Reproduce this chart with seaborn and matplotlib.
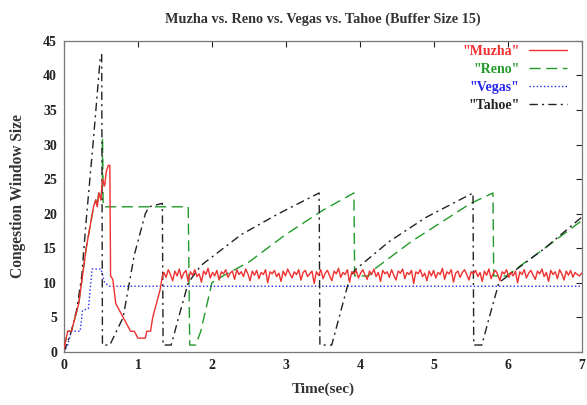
import numpy as np
import pandas as pd
import matplotlib
matplotlib.use("Agg")
import matplotlib.pyplot as plt
import seaborn as sns

# ---------------- data ----------------
muzha_x_start = [0.0, 0.03, 0.05, 0.10, 0.15, 0.20, 0.25, 0.30, 0.35, 0.40, 0.43, 0.45, 0.47,
                 0.50, 0.52, 0.55, 0.57, 0.60, 0.62, 0.63, 0.66, 0.70, 0.75, 0.80, 0.85, 0.90,
                 0.95, 1.00, 1.10, 1.12, 1.17, 1.20, 1.25, 1.30, 1.33]
muzha_y_start = [0.5, 2, 3, 3, 5, 7, 11, 15, 18, 21, 22, 21, 23,
                 22, 25, 24, 26, 27, 27, 11, 10.5, 7, 6, 5, 4, 3,
                 3, 2, 2, 3, 3, 5, 7, 9, 11]
muzha_noise = [11.5, 10.8, 11.9, 11.2, 10.3, 11.7, 11.0, 12.0, 10.6, 11.4,
               11.8, 10.2, 11.6, 11.1, 11.9, 10.9, 11.3, 10.1, 11.7, 11.2,
               12.1, 10.7, 11.5, 11.0, 11.8, 10.4, 11.6, 11.3, 11.9, 10.8,
               11.4, 11.7, 10.5, 11.9, 11.2, 11.6, 10.9, 12.0, 11.3, 10.3,
               11.7, 11.1, 11.8, 10.6, 11.5, 11.2, 11.9, 10.0, 11.6, 11.3,
               11.8, 10.9, 11.4, 10.2, 11.7, 11.0, 12.0, 11.3, 10.7, 11.6,
               11.2, 11.9, 10.4, 11.5, 11.8, 10.9, 11.3, 11.7, 9.9, 11.6,
               11.1, 11.9, 10.6, 11.4, 11.8, 11.0, 10.3, 11.7, 11.3, 12.1,
               10.8, 11.5, 11.2, 11.9, 10.1, 11.6, 11.3, 11.8, 10.7, 11.4,
               11.9, 11.1, 10.5, 11.7, 11.2, 12.0, 10.9, 11.5, 10.2, 11.8,
               11.3, 11.6, 10.8, 11.9, 11.1, 10.4, 11.7, 11.4, 12.0, 10.6,
               11.5, 11.2, 11.8, 9.9, 11.6, 11.3, 11.9, 10.9, 11.4, 10.3,
               11.7, 11.0, 11.8, 10.7, 11.5, 11.2, 12.1, 10.5, 11.6, 11.3,
               11.9, 10.1, 11.4, 11.7, 10.8, 11.5, 11.9, 11.2, 10.4, 11.6,
               11.3, 11.8, 10.9, 11.5, 10.2, 11.7, 11.1, 12.0, 10.6, 11.4,
               11.8, 11.2, 10.3, 11.6, 11.3, 11.9, 10.8, 11.5, 11.0, 11.7,
               10.0, 11.6, 11.2, 11.9, 10.7, 11.4, 11.8, 11.1, 10.5, 11.7,
               11.3, 12.0, 10.9, 11.5, 10.2, 11.8, 11.2, 11.6, 10.6, 11.9,
               11.3, 10.4, 11.7, 11.1, 11.8, 10.8, 11.5, 11.2, 11.0, 11.4]

reno_x = [0.0, 0.03, 0.05, 0.10, 0.15, 0.20, 0.25, 0.30, 0.35, 0.40, 0.43, 0.45, 0.47,
          0.50, 0.52, 0.52, 0.53, 1.68, 1.70, 1.78, 1.85, 2.0, 2.15,
          2.5, 3.0, 3.5, 3.92, 3.93, 4.12, 4.2, 4.7, 5.5, 5.80, 5.81, 5.98, 6.5, 7.0]
reno_y = [0.5, 2, 3, 3, 5, 7, 11, 15, 18, 21, 22, 21, 23,
          22, 25, 31, 21, 21, 1, 1, 3, 10, 11,
          13, 17, 20.5, 23, 11, 11, 12, 16, 21.5, 23, 11, 11, 15, 19]

vegas_x = [0.0, 0.05, 0.10, 0.22, 0.25, 0.33, 0.38, 0.50, 0.55, 0.62, 7.0]
vegas_y = [0, 1, 3, 3, 6, 6.3, 12, 12, 10, 9.5, 9.5]

tahoe_x = [0.0, 0.10, 0.17, 0.24, 0.30, 0.40, 0.49, 0.51, 0.52, 0.62, 0.80, 0.95, 1.10,
           1.15, 1.33, 1.34, 1.45, 1.55, 1.68, 1.85, 2.4, 2.9, 3.45, 3.46, 3.62, 3.72,
           3.87, 3.95, 4.4, 4.9, 5.53, 5.54, 5.65, 5.75, 5.88, 6.0, 6.5, 7.0]
tahoe_y = [0, 3, 6, 11, 19, 31, 42.5, 43, 1, 1, 5, 14, 20,
           21, 21.5, 1, 1, 5, 10, 12.5, 17, 20, 23, 1, 1, 5,
           11, 12, 16, 19.5, 23, 1, 1, 5, 10, 11, 15, 19.5]

labels = ['"Muzha"', '"Reno"', '"Vegas"', '"Tahoe"']
colors = ['#f03030', '#229a2a', '#2828ee', '#222222']
x_ticks = [0, 1, 2, 3, 4, 5, 6, 7]
y_ticks = [0, 5, 10, 15, 20, 25, 30, 35, 40, 45]

# --------------- build ----------------
muzha_x = list(muzha_x_start) + list(np.linspace(1.35, 7.0, len(muzha_noise)))
muzha_y = list(muzha_y_start) + list(muzha_noise)

sns.set_style("white")
plt.rcParams['font.family'] = ['Liberation Serif', 'DejaVu Serif']

fig = plt.figure(figsize=(5.87, 4.05), dpi=100)
ax = fig.add_axes([0.109, 0.131, 0.882, 0.768])

series = [(muzha_x, muzha_y), (reno_x, reno_y), (vegas_x, vegas_y), (tahoe_x, tahoe_y)]
dashes = [None, (8, 4), (1, 1.6), (6, 3, 1.5, 3)]
zorders = [2.6, 2.2, 2.4, 2.5]
for (xs, ys), lab, col, ds, zo in zip(series, labels, colors, dashes, zorders):
    sns.lineplot(x=xs, y=ys, ax=ax, sort=False, estimator=None,
                 color=col, linewidth=1.0, label=lab)
    ln = ax.get_lines()[-1]
    ln.set_zorder(zo)
    if ds is not None:
        ln.set_dashes(ds)

ax.set_xlim(0, 7)
ax.set_ylim(0, 45)
ax.set_xticks(x_ticks)
ax.set_yticks(y_ticks)
ax.tick_params(direction='in', top=True, right=True, length=4, width=0.8,
               labelsize=10, pad=5, colors='#222222')
for t in ax.get_xticklabels() + ax.get_yticklabels():
    t.set_fontweight('bold')
for s in ax.spines.values():
    s.set_color('#777777')
    s.set_linewidth(0.9)

ax.set_title('Muzha vs. Reno vs. Vegas vs. Tahoe (Buffer Size 15)',
             fontsize=10.3, fontweight='bold', pad=13, color='#333333')
ax.set_xlabel('Time(sec)', fontsize=11, fontweight='bold', color='#333333', labelpad=8)
ax.set_ylabel('Congestion Window Size', fontsize=11.2, fontweight='bold', color='#333333', labelpad=12)

leg = ax.legend(loc='upper right', bbox_to_anchor=(0.979, 1.0), frameon=False,
                markerfirst=False, handlelength=2.7,
                labelcolor=colors, borderaxespad=0.1, borderpad=0.2, labelspacing=0.35,
                handletextpad=0.7, prop={'weight': 'bold', 'size': 10})

fig.savefig('out.png', dpi=100)
